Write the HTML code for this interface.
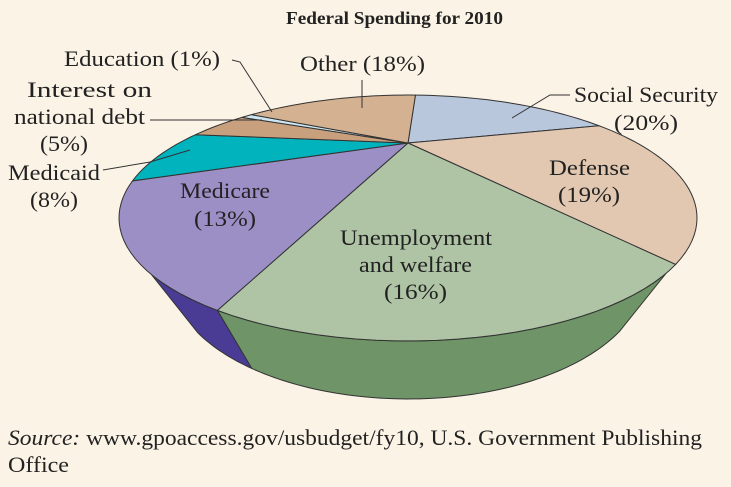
<!DOCTYPE html>
<html><head><meta charset="utf-8"><style>
body{margin:0;background:#fbf3e6;}
#wrap{position:relative;width:731px;height:487px;background:#fbf3e6;font-family:"Liberation Serif",serif;color:#222;overflow:hidden}
svg{position:absolute;left:0;top:0}
.t{font-family:"Liberation Serif",serif;font-size:22px;fill:#222}
</style></head><body>
<div id="wrap">
<svg id="svg" width="731" height="487">
<text x="286" y="24" textLength="217" lengthAdjust="spacingAndGlyphs" font-weight="bold" font-size="18" font-family="Liberation Serif, serif" fill="#222">Federal Spending for 2010</text>
<g id="sides"></g><g id="tops"></g>
<g stroke="#333" stroke-width="1" fill="none">
<polyline points="232,60 240,62 272,112"/>
<polyline points="150,120 262,120"/>
<polyline points="103,170 150,162 190,150"/>
<polyline points="362,80 362,108"/>
<polyline points="570,95 550,95 512,118"/>
</g>
<g lengthAdjust="spacingAndGlyphs">
<text class="t" x="64" y="66" textLength="156" lengthAdjust="spacingAndGlyphs">Education (1%)</text>
<text class="t" x="27" y="97" textLength="125" lengthAdjust="spacingAndGlyphs">Interest on</text>
<text class="t" x="14" y="124" textLength="131" lengthAdjust="spacingAndGlyphs">national debt</text>
<text class="t" x="40" y="151" textLength="48" lengthAdjust="spacingAndGlyphs">(5%)</text>
<text class="t" x="8" y="180" textLength="92" lengthAdjust="spacingAndGlyphs">Medicaid</text>
<text class="t" x="30" y="207" textLength="48" lengthAdjust="spacingAndGlyphs">(8%)</text>
<text class="t" x="300" y="71" textLength="125" lengthAdjust="spacingAndGlyphs">Other (18%)</text>
<text class="t" x="574" y="102" textLength="144" lengthAdjust="spacingAndGlyphs">Social Security</text>
<text class="t" x="614" y="130" textLength="64" lengthAdjust="spacingAndGlyphs">(20%)</text>
<text class="t" x="549" y="175" textLength="81" lengthAdjust="spacingAndGlyphs">Defense</text>
<text class="t" x="558" y="202" textLength="62" lengthAdjust="spacingAndGlyphs">(19%)</text>
<text class="t" x="180" y="198" textLength="90" lengthAdjust="spacingAndGlyphs">Medicare</text>
<text class="t" x="194" y="226" textLength="62" lengthAdjust="spacingAndGlyphs">(13%)</text>
<text class="t" x="340" y="245" textLength="152" lengthAdjust="spacingAndGlyphs">Unemployment</text>
<text class="t" x="359" y="272" textLength="113" lengthAdjust="spacingAndGlyphs">and welfare</text>
<text class="t" x="384" y="299" textLength="63" lengthAdjust="spacingAndGlyphs">(16%)</text>
</g>
<g>
<text class="t" x="8" y="445" textLength="694" lengthAdjust="spacingAndGlyphs"><tspan font-style="italic">Source:</tspan> www.gpoaccess.gov/usbudget/fy10, U.S. Government Publishing</text>
<text class="t" x="8" y="472" textLength="61" lengthAdjust="spacingAndGlyphs">Office</text>
</g>
</svg>
</div>
<script>
const categories=["Social Security","Defense","Unemployment and welfare","Medicare","Medicaid","Interest on national debt","Education","Other"];
const values=[20,19,16,13,8,5,1,18];
const topColors=["#b9c7dc","#e2c8b1","#aec4a4","#9b8fc5","#00b3bd","#c9a07d","#cde6f1","#d4b191"];
const sideColors=["#7f8fa8","#b49880","#6e9467","#4a3c95","#007f87","#93704f","#8fb0c0","#a07f60"];
const ax=408,ay=143,k=0.61,Sx=229,Sy=77.2,depth=58,shrink=0.82,start=-87;
const midY=ay+Sy*k/(1-k*k);
const ns="http://www.w3.org/2000/svg";
const total=values.reduce((a,b)=>a+b,0);
function pt(d){const r=d*Math.PI/180;const c=Math.cos(r),s=Math.sin(r);const w=1-k*s;return [ax+Sx*c/w,ay+Sy*s/w];}
const tops=document.getElementById('tops'),sides=document.getElementById('sides');
let a=start;
values.forEach((v,i)=>{
  const a2=a+v/total*360;
  let up=[];
  const steps=80;
  for(let j=0;j<=steps;j++){const p=pt(a+(a2-a)*j/steps);if(p[1]>=midY+55)up.push(p);}
  if(up.length>1){
    const dn=up.slice().reverse().map(p=>[ax+(p[0]-ax)*shrink,p[1]+depth]);
    const p=document.createElementNS(ns,'polygon');
    p.setAttribute('points',up.concat(dn).map(q=>q.join(',')).join(' '));
    p.setAttribute('fill',sideColors[i]);p.setAttribute('stroke','#333');p.setAttribute('stroke-width','1');
    
    
    sides.appendChild(p);
  }
  let pts=[[ax,ay]];
  const n=Math.max(2,Math.ceil((a2-a)/2));
  for(let j=0;j<=n;j++)pts.push(pt(a+(a2-a)*j/n));
  const p=document.createElementNS(ns,'polygon');
  p.setAttribute('points',pts.map(q=>q.join(',')).join(' '));
  p.setAttribute('fill',topColors[i]);p.setAttribute('stroke','#333');p.setAttribute('stroke-width','1');
  
  
  tops.appendChild(p);
  a=a2;
});
</script>
</body></html>
